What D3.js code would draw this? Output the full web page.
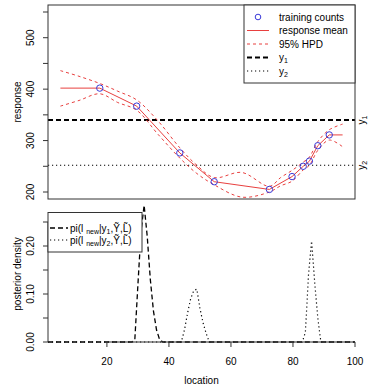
<html>
	<head>
		<title>response and posterior density</title>
		<style>
			body { margin: 0; background: #ffffff; }
			text { font-family: "Liberation Sans", Arial, sans-serif; font-size: 10px; fill: #000; }
		</style>
	</head>
	<body>

		<div id="chart"></div>

		<script src="https://cdn.jsdelivr.net/npm/d3@7"></script>
		<script>
			(function(){
				"use strict";

				// training data
				var trainLoc  = [17.7, 29.6, 43.5, 54.6, 72.4, 79.7, 83.3, 85.3, 88, 91.7];
				var trainResp = [402, 367, 276, 220, 205, 230, 250, 260, 290, 311];

				// response mean
				var meanLoc  = [5, 17.7, 29.6, 43.5, 54.6, 72.4, 79.7, 83.3, 85.3, 88, 91.7, 96];
				var meanResp = [402, 402, 367, 276, 220, 205, 230, 250, 260, 290, 311, 311];

				// 95% HPD band
				var hpdLoc   = [5, 11, 17.7, 23.5, 29.6, 36.5, 43.5, 49, 54.6, 63.5, 72.4, 76, 79.7, 83.3, 85.3, 88, 91.7, 96];
				var hpdUpper = [436, 425, 411, 396, 379, 338, 286, 252, 228, 238, 211, 228, 242, 258, 268, 298, 321, 332];
				var hpdLower = [367, 378, 391, 374, 359, 312, 266, 236, 214, 190, 200, 212, 221, 243, 252, 281, 301, 288];

				// thresholds
				var y1 = 340;
				var y2 = 252;

				// posterior densities of new location
				var dens1Loc = [1, 28, 29, 30, 31, 32, 33, 34, 35, 36, 37, 38, 100];
				var dens1    = [0, 0, 0.005, 0.12, 0.23, 0.285, 0.22, 0.13, 0.065, 0.025, 0.005, 0, 0];
				var dens2Loc = [1, 44, 45, 46, 47, 48, 49, 50, 51, 52, 53, 83, 84, 85, 86, 87, 88, 89, 100];
				var dens2    = [0, 0, 0.025, 0.06, 0.09, 0.107, 0.11, 0.07, 0.04, 0.018, 0, 0, 0.02, 0.14, 0.21, 0.125, 0.05, 0, 0];

				// tick values
				var respTicks = [200, 250, 300, 350, 400, 450, 500, 550];
				var respLabels = [200, 300, 400, 500];
				var densTicks = [0, 0.05, 0.10, 0.15, 0.20, 0.25];
				var densLabels = [0, 0.10, 0.20];
				var locTicks = [20, 40, 60, 80, 100];

				var width = 372;
				var height = 386;
				var left = 48, right = 355;
				var red = "#e8403f";
				var axisCol = "#333";
				var dashed = "5,3";
				var dotted = "1.2,2.8";

				var svg = d3.select("#chart")
					.append("svg")
						.attr("width", width)
						.attr("height", height);

				var x = d3.scaleLinear().domain([1, 100]).range([left, right]);
				var yTop = d3.scaleLinear().domain([200, 550]).range([192, 12]);
				var yBot = d3.scaleLinear().domain([0, 0.25]).range([342, 222]);

				// ---------- top panel ----------
				var top = svg.append("g");

				top.append("line").attr("x1", left).attr("x2", right).attr("y1", yTop(y1)).attr("y2", yTop(y1))
					.attr("stroke", "#000").attr("stroke-width", 1.8).attr("stroke-dasharray", dashed);
				top.append("line").attr("x1", left).attr("x2", right).attr("y1", yTop(y2)).attr("y2", yTop(y2))
					.attr("stroke", "#000").attr("stroke-width", 1.2).attr("stroke-dasharray", dotted);

				var hpdLine = function(vals){
					return d3.line()
						.curve(d3.curveCatmullRom)
						.x(function(d, i){ return x(hpdLoc[i]); })
						.y(function(d){ return yTop(d); })(vals);
				};
				top.append("path").attr("d", hpdLine(hpdUpper))
					.attr("fill", "none").attr("stroke", red).attr("stroke-dasharray", "3,3");
				top.append("path").attr("d", hpdLine(hpdLower))
					.attr("fill", "none").attr("stroke", red).attr("stroke-dasharray", "3,3");

				var meanLine = d3.line()
					.x(function(d, i){ return x(meanLoc[i]); })
					.y(function(d){ return yTop(d); });
				top.append("path").attr("d", meanLine(meanResp))
					.attr("fill", "none").attr("stroke", red);

				top.selectAll("circle.train")
					.data(trainResp)
					.enter().append("circle")
						.attr("class", "train")
						.attr("cx", function(d, i){ return x(trainLoc[i]); })
						.attr("cy", function(d){ return yTop(d); })
						.attr("r", 3.2)
						.attr("fill", "none")
						.attr("stroke", "#3a3ad8");

				// box
				top.append("rect").attr("x", left).attr("y", 5).attr("width", right - left).attr("height", 194)
					.attr("fill", "none").attr("stroke", axisCol);

				// left axis
				top.selectAll("line.tick")
					.data(respTicks)
					.enter().append("line")
						.attr("x1", left - 5).attr("x2", left)
						.attr("y1", function(d){ return yTop(d); })
						.attr("y2", function(d){ return yTop(d); })
						.attr("stroke", axisCol);
				top.selectAll("text.tick")
					.data(respLabels)
					.enter().append("text")
						.attr("text-anchor", "middle")
						.attr("transform", function(d){ return "translate(34," + yTop(d) + ") rotate(-90)"; })
						.text(function(d){ return d; });
				top.append("text").attr("text-anchor", "middle")
					.attr("transform", "translate(21,102) rotate(-90)")
					.text("response");

				// right labels
				var rl = top.append("text").attr("text-anchor", "middle")
					.attr("transform", "translate(365," + yTop(y1) + ") rotate(-90)");
				rl.append("tspan").text("y");
				rl.append("tspan").attr("font-size", "7px").attr("dy", 2).text("1");
				var rl2 = top.append("text").attr("text-anchor", "middle")
					.attr("transform", "translate(365," + yTop(y2) + ") rotate(-90)");
				rl2.append("tspan").text("y");
				rl2.append("tspan").attr("font-size", "7px").attr("dy", 2).text("2");

				// legend
				var lg = top.append("g");
				lg.append("rect").attr("x", 244).attr("y", 5).attr("width", right - 244).attr("height", 78)
					.attr("fill", "#fff").attr("stroke", axisCol);
				var items = [
					{ label: "training counts", type: "pt" },
					{ label: "response mean", stroke: red, dash: null, w: 1 },
					{ label: "95% HPD", stroke: red, dash: "3,3", w: 1 },
					{ label: "y", sub: "1", stroke: "#000", dash: dashed, w: 1.8 },
					{ label: "y", sub: "2", stroke: "#000", dash: dotted, w: 1.2 }
				];
				items.forEach(function(it, i){
					var yy = 17 + i * 13.5;
					if (it.type === "pt") {
						lg.append("circle").attr("cx", 258).attr("cy", yy).attr("r", 2.8)
							.attr("fill", "none").attr("stroke", "#3a3ad8");
					} else {
						lg.append("line").attr("x1", 247).attr("x2", 269).attr("y1", yy).attr("y2", yy)
							.attr("stroke", it.stroke).attr("stroke-width", it.w)
							.attr("stroke-dasharray", it.dash);
					}
					var t = lg.append("text").attr("x", 279).attr("y", yy + 3.5);
					t.append("tspan").text(it.label);
					if (it.sub) t.append("tspan").attr("font-size", "7px").attr("dy", 2).text(it.sub);
				});

				// ---------- bottom panel ----------
				var bot = svg.append("g");

				var densLine = function(locs, vals){
					return d3.line()
						.x(function(d, i){ return x(locs[i]); })
						.y(function(d){ return yBot(d); })(vals);
				};
				bot.append("path").attr("d", densLine(dens1Loc, dens1))
					.attr("fill", "none").attr("stroke", "#000").attr("stroke-width", 1.3)
					.attr("stroke-dasharray", dashed);
				bot.append("path").attr("d", densLine(dens2Loc, dens2))
					.attr("fill", "none").attr("stroke", "#000").attr("stroke-width", 1.2)
					.attr("stroke-dasharray", dotted);

				// left axis
				bot.append("line").attr("x1", left).attr("x2", left).attr("y1", yBot(0)).attr("y2", yBot(0.25))
					.attr("stroke", axisCol);
				bot.selectAll("line.dtick")
					.data(densTicks)
					.enter().append("line")
						.attr("x1", left - 5).attr("x2", left)
						.attr("y1", function(d){ return yBot(d); })
						.attr("y2", function(d){ return yBot(d); })
						.attr("stroke", axisCol);
				bot.selectAll("text.dtick")
					.data(densLabels)
					.enter().append("text")
						.attr("text-anchor", "middle")
						.attr("transform", function(d){ return "translate(34," + yBot(d) + ") rotate(-90)"; })
						.text(function(d){ return d3.format(".2f")(d); });
				bot.append("text").attr("text-anchor", "middle")
					.attr("transform", "translate(21,274) rotate(-90)")
					.text("posterior density");

				// bottom axis
				bot.append("line").attr("x1", x(20)).attr("x2", x(100)).attr("y1", yBot(0)).attr("y2", yBot(0))
					.attr("stroke", axisCol);
				bot.selectAll("line.xtick")
					.data(locTicks)
					.enter().append("line")
						.attr("x1", function(d){ return x(d); })
						.attr("x2", function(d){ return x(d); })
						.attr("y1", yBot(0)).attr("y2", yBot(0) + 5)
						.attr("stroke", axisCol);
				bot.selectAll("text.xtick")
					.data(locTicks)
					.enter().append("text")
						.attr("text-anchor", "middle")
						.attr("x", function(d){ return x(d); })
						.attr("y", 365)
						.text(function(d){ return d; });
				bot.append("text").attr("text-anchor", "middle")
					.attr("x", (left + right) / 2).attr("y", 384)
					.text("location");

				// legend
				var lb = bot.append("g");
				lb.append("rect").attr("x", left).attr("y", 212.5).attr("width", 94).attr("height", 39.5)
					.attr("fill", "#fff").attr("stroke", axisCol);
				var dItems = [
					{ sub: "1", dash: dashed, w: 1.3 },
					{ sub: "2", dash: dotted, w: 1.2 }
				];
				dItems.forEach(function(it, i){
					var yy = 228 + i * 12;
					lb.append("line").attr("x1", 50).attr("x2", 68).attr("y1", yy).attr("y2", yy)
						.attr("stroke", "#000").attr("stroke-width", it.w).attr("stroke-dasharray", it.dash);
					var t = lb.append("text").attr("x", 70).attr("y", yy + 3.5);
					t.append("tspan").text("pi(l ");
					t.append("tspan").attr("font-size", "7px").attr("dy", 2).text("new");
					t.append("tspan").attr("dy", -2).text("|y");
					t.append("tspan").attr("font-size", "7px").attr("dy", 2).text(it.sub);
					t.append("tspan").attr("dy", -2).text(",\u1EF8,L\u0303)");
				});

			})();
		</script>

	</body>
</html>
